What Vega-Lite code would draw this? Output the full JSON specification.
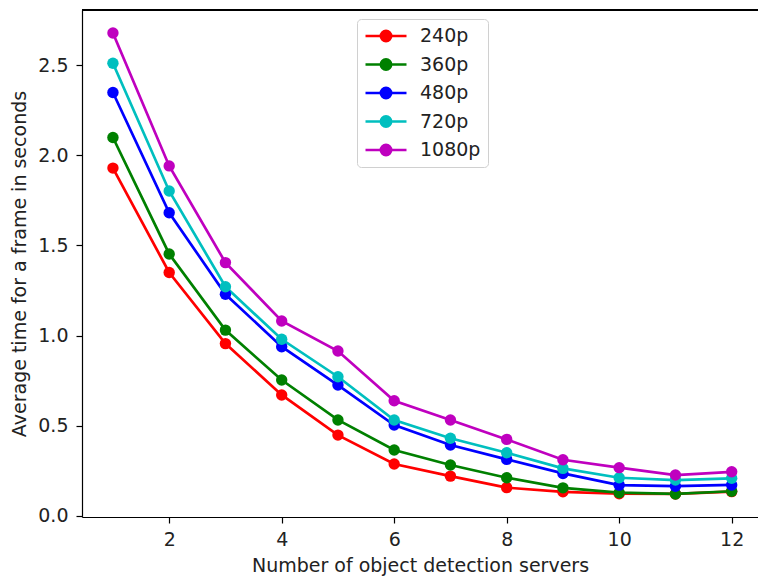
{
  "$schema": "https://vega.github.io/schema/vega-lite/v6.json",
  "width": 676,
  "height": 507,
  "autosize": {"type": "none"},
  "padding": {"left": 82, "top": 10, "right": 0, "bottom": 63},
  "background": "white",
  "config": {
    "view": {"stroke": null},
    "font": "DejaVu Sans",
    "axis": {
      "grid": false,
      "domainColor": "#000000",
      "domainWidth": 1.2,
      "tickColor": "#000000",
      "tickWidth": 1.2,
      "tickSize": 6,
      "labelColor": "#222222",
      "titleColor": "#222222",
      "labelFontSize": 19,
      "titleFontSize": 19,
      "titleFontWeight": "normal",
      "labelFont": "DejaVu Sans",
      "titleFont": "DejaVu Sans"
    }
  },
  "data": {
    "values": [
      {"servers": 1, "res": "240p", "time": 1.93},
      {"servers": 2, "res": "240p", "time": 1.35},
      {"servers": 3, "res": "240p", "time": 0.955},
      {"servers": 4, "res": "240p", "time": 0.67},
      {"servers": 5, "res": "240p", "time": 0.447},
      {"servers": 6, "res": "240p", "time": 0.286},
      {"servers": 7, "res": "240p", "time": 0.219},
      {"servers": 8, "res": "240p", "time": 0.155},
      {"servers": 9, "res": "240p", "time": 0.132},
      {"servers": 10, "res": "240p", "time": 0.121},
      {"servers": 11, "res": "240p", "time": 0.12},
      {"servers": 12, "res": "240p", "time": 0.133},
      {"servers": 1, "res": "360p", "time": 2.1},
      {"servers": 2, "res": "360p", "time": 1.453},
      {"servers": 3, "res": "360p", "time": 1.03},
      {"servers": 4, "res": "360p", "time": 0.753},
      {"servers": 5, "res": "360p", "time": 0.531},
      {"servers": 6, "res": "360p", "time": 0.364},
      {"servers": 7, "res": "360p", "time": 0.281},
      {"servers": 8, "res": "360p", "time": 0.21},
      {"servers": 9, "res": "360p", "time": 0.154},
      {"servers": 10, "res": "360p", "time": 0.127},
      {"servers": 11, "res": "360p", "time": 0.12},
      {"servers": 12, "res": "360p", "time": 0.135},
      {"servers": 1, "res": "480p", "time": 2.35},
      {"servers": 2, "res": "480p", "time": 1.682},
      {"servers": 3, "res": "480p", "time": 1.229},
      {"servers": 4, "res": "480p", "time": 0.938},
      {"servers": 5, "res": "480p", "time": 0.725},
      {"servers": 6, "res": "480p", "time": 0.503},
      {"servers": 7, "res": "480p", "time": 0.392},
      {"servers": 8, "res": "480p", "time": 0.312},
      {"servers": 9, "res": "480p", "time": 0.234},
      {"servers": 10, "res": "480p", "time": 0.169},
      {"servers": 11, "res": "480p", "time": 0.163},
      {"servers": 12, "res": "480p", "time": 0.17},
      {"servers": 1, "res": "720p", "time": 2.512},
      {"servers": 2, "res": "720p", "time": 1.803},
      {"servers": 3, "res": "720p", "time": 1.271},
      {"servers": 4, "res": "720p", "time": 0.979},
      {"servers": 5, "res": "720p", "time": 0.771},
      {"servers": 6, "res": "720p", "time": 0.531},
      {"servers": 7, "res": "720p", "time": 0.429},
      {"servers": 8, "res": "720p", "time": 0.349},
      {"servers": 9, "res": "720p", "time": 0.262},
      {"servers": 10, "res": "720p", "time": 0.21},
      {"servers": 11, "res": "720p", "time": 0.197},
      {"servers": 12, "res": "720p", "time": 0.207},
      {"servers": 1, "res": "1080p", "time": 2.68},
      {"servers": 2, "res": "1080p", "time": 1.942},
      {"servers": 3, "res": "1080p", "time": 1.405},
      {"servers": 4, "res": "1080p", "time": 1.081},
      {"servers": 5, "res": "1080p", "time": 0.914},
      {"servers": 6, "res": "1080p", "time": 0.638},
      {"servers": 7, "res": "1080p", "time": 0.531},
      {"servers": 8, "res": "1080p", "time": 0.423},
      {"servers": 9, "res": "1080p", "time": 0.31},
      {"servers": 10, "res": "1080p", "time": 0.266},
      {"servers": 11, "res": "1080p", "time": 0.225},
      {"servers": 12, "res": "1080p", "time": 0.243}
    ]
  },
  "layer": [
    {
      "mark": {"type": "rule", "color": "#000000", "strokeWidth": 1.2},
      "encoding": {
        "y": {"datum": 2.808, "type": "quantitative", "scale": {"domain": [-0.008, 2.808], "nice": false, "zero": false}}
      }
    },
    {
      "encoding": {
        "x": {
          "field": "servers",
          "type": "quantitative",
          "scale": {"domain": [0.45, 12.468], "nice": false, "zero": false},
          "axis": {
            "values": [2, 4, 6, 8, 10, 12],
            "format": "d",
            "labelPadding": 7,
            "title": "Number of object detection servers",
            "titlePadding": 7
          }
        },
        "y": {
          "field": "time",
          "type": "quantitative",
          "scale": {"domain": [-0.008, 2.808], "nice": false, "zero": false},
          "axis": {
            "values": [0, 0.5, 1, 1.5, 2, 2.5],
            "format": ".1f",
            "labelPadding": 8,
            "title": "Average time for a frame in seconds",
            "titlePadding": 8
          }
        },
        "color": {
          "field": "res",
          "type": "nominal",
          "scale": {
            "domain": ["240p", "360p", "480p", "720p", "1080p"],
            "range": ["#ff0000", "#008000", "#0000ff", "#00bfbf", "#bf00bf"]
          },
          "legend": {
            "title": null,
            "orient": "none",
            "legendX": 275,
            "legendY": 9,
            "symbolType": "M-1,0L1,0M-0.25,0A0.25,0.25,0,1,1,0.25,0A0.25,0.25,0,1,1,-0.25,0Z",
            "symbolSize": 1681,
            "symbolStrokeWidth": 2.7,
            "clipHeight": 20,
            "rowPadding": 8.5,
            "labelFontSize": 19,
            "labelFont": "DejaVu Sans",
            "labelColor": "#222222",
            "labelOffset": 12,
            "padding": 7,
            "strokeColor": "#d0d0d0",
            "fillColor": "rgba(255,255,255,0.8)",
            "cornerRadius": 4,
            "encode": {
              "symbols": {
                "update": {
                  "fill": {"scale": "color", "field": "value"},
                  "stroke": {"scale": "color", "field": "value"},
                  "strokeWidth": {"value": 2.7},
                  "opacity": {"value": 1}
                }
              }
            }
          }
        }
      },
      "layer": [
        {"mark": {"type": "line", "strokeWidth": 2.7}},
        {"mark": {"type": "point", "filled": true, "size": 130, "opacity": 1}}
      ]
    }
  ]
}
